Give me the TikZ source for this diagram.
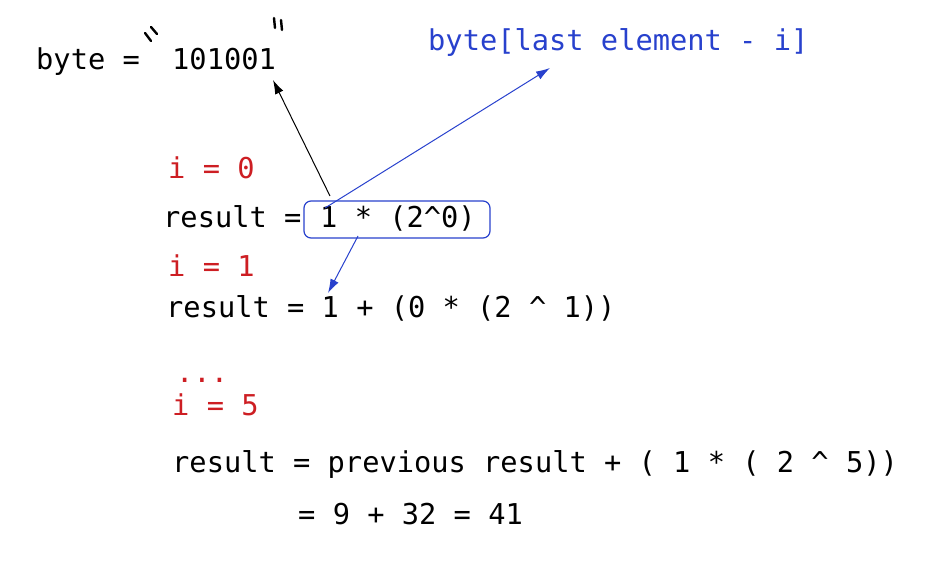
\documentclass[tikz,border=0pt]{standalone}
\usepackage{fontspec}
\setmonofont{DejaVu Sans Mono}
\usetikzlibrary{arrows.meta}
\definecolor{idxred}{RGB}{205,30,35}
\definecolor{refblue}{RGB}{40,65,205}
\tikzset{
  code/.style={font=\ttfamily\fontsize{28.7}{34}\selectfont, inner sep=0pt, anchor=base west},
  redcode/.style={code, text=idxred},
  bluecode/.style={code, text=refblue},
  quotemark/.style={line width=2.4pt, line cap=round},
  pointer/.style={-{Latex[length=14pt, width=9pt]}, line width=1pt}
}
\begin{document}
\begin{tikzpicture}[x=1pt, y=-1pt]
    \useasboundingbox (0,0) rectangle (932,561);
    \node (bytevar) at (36,70) [code] {byte =};
    \node (bytebits) at (172,70) [code] {101001};
    \node (lastidx) at (428,51) [bluecode] {byte[last element - i]};
    % hand drawn quotes
    \draw[quotemark] (145,33) -- (151,41);
    \draw[quotemark] (151,27) -- (157,34);
    \draw[quotemark] (274,18) -- (275,28);
    \draw[quotemark] (281,20) -- (282,30);
    \node (izero) at (168,179) [redcode] {i = 0};
    \node (res0) at (163,228) [code] {result =};
    \node (term0) at (320,228) [code] {1 * (2\^{}0)};
    \draw[refblue, line width=1.2pt, rounded corners=7pt] (304,201) rectangle (490,238);
    \node (ione) at (168,277) [redcode] {i = 1};
    \node (res1) at (166,318) [code] {result = 1 + (0 * (2 \^{} 1))};
    \node (dots) at (176,382) [redcode] {...};
    \node (ifive) at (172,415) [redcode] {i = 5};
    \node (res5) at (172,472) [code] {result = previous result + ( 1 * ( 2 \^{} 5))};
    \node (total) at (298,524) [code] {= 9 + 32 = 41};
    % arrows
    \coordinate (bitstart) at (330,196);
    \coordinate (bittip) at (273,80);
    \coordinate (idxstart) at (325,208);
    \coordinate (idxtip) at (550,68);
    \coordinate (nextstart) at (358,236);
    \coordinate (nexttip) at (328,293);
    \draw[pointer] (bitstart) -- (bittip);
    \draw[pointer, refblue] (idxstart) -- (idxtip);
    \draw[pointer, refblue] (nextstart) -- (nexttip);
\end{tikzpicture}
\end{document}
